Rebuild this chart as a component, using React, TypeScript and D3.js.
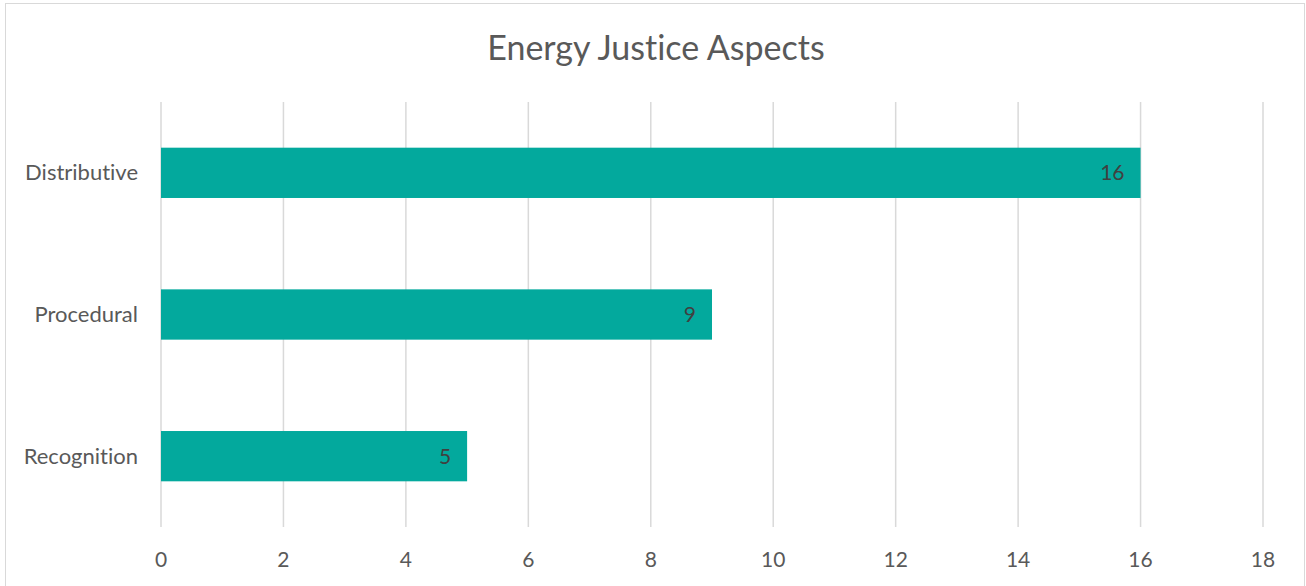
import React from "react";
import * as d3 from "d3";

// Energy justice aspects and their counts
const categories: string[] = ["Distributive", "Procedural", "Recognition"];
const counts: number[] = [16, 9, 5];
const xTicks: number[] = [0, 2, 4, 6, 8, 10, 12, 14, 16, 18];
const title = "Energy Justice Aspects";

const W = 1306;
const H = 586;
const FONT = "Lato, 'Open Sans', sans-serif";

export default function App() {
  const plot = { left: 161, right: 1263, top: 102, bottom: 527 };

  const x = d3.scaleLinear().domain([0, 18]).range([plot.left, plot.right]);
  const y = d3
    .scaleBand<string>()
    .domain(categories)
    .range([plot.top, plot.bottom])
    .paddingInner(0.645)
    .paddingOuter(0.3225);

  return (
    <svg
      width={W}
      height={H}
      style={{
        position: "absolute",
        left: 0,
        top: 0,
        display: "block",
        fontVariantLigatures: "none",
      }}
      fontFamily={FONT}
    >
      <rect x={0} y={0} width={W} height={H} fill="#fff" />
      {/* chart frame */}
      <rect
        x={5.5}
        y={3.5}
        width={1299}
        height={H + 10}
        fill="none"
        stroke="#D9D9D9"
        strokeWidth={1}
      />

      <text
        x={656}
        y={60}
        textAnchor="middle"
        fontSize={34}
        fill="#595959"
      >
        {title}
      </text>

      {/* vertical gridlines */}
      {xTicks.map((t) => (
        <line
          key={t}
          x1={x(t)}
          x2={x(t)}
          y1={plot.top}
          y2={plot.bottom}
          stroke="#D9D9D9"
          strokeWidth={1.5}
        />
      ))}

      {/* bars */}
      {categories.map((c, i) => (
        <rect
          key={c}
          x={x(0)}
          y={y(c)!}
          width={x(counts[i]) - x(0)}
          height={y.bandwidth()}
          fill="#03A99D"
        />
      ))}

      {/* value labels inside bar ends */}
      {categories.map((c, i) => (
        <text
          key={c}
          x={x(counts[i]) - 16}
          y={y(c)! + y.bandwidth() / 2 + 7.5}
          textAnchor="end"
          fontSize={21}
          fill="#404040"
        >
          {counts[i]}
        </text>
      ))}

      {/* category labels */}
      {categories.map((c) => (
        <text
          key={c}
          x={138}
          y={y(c)! + y.bandwidth() / 2 + 7.5}
          textAnchor="end"
          fontSize={22}
          fill="#595959"
        >
          {c}
        </text>
      ))}

      {/* x tick labels */}
      {xTicks.map((t) => (
        <text
          key={t}
          x={x(t)}
          y={567}
          textAnchor="middle"
          fontSize={21}
          fill="#595959"
        >
          {t}
        </text>
      ))}
    </svg>
  );
}
